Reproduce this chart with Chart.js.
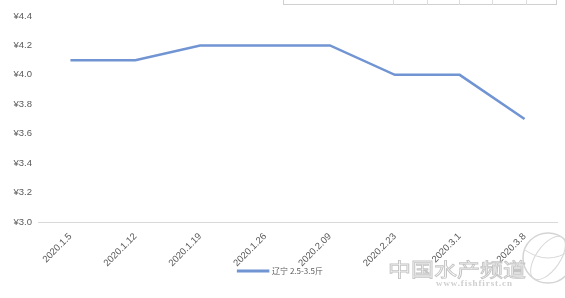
<!DOCTYPE html>
<html>
<head>
<meta charset="utf-8">
<script src="https://cdn.jsdelivr.net/npm/chart.js@4/dist/chart.umd.min.js"></script>
<style>
html,body{margin:0;padding:0;background:#fff;}
#wrap{position:relative;width:565px;height:298px;overflow:hidden;}
canvas{position:absolute;left:0;top:0;}
#tbl{position:absolute;left:283px;top:-2px;width:274px;height:7px;border:1px solid #d0d0d0;box-sizing:border-box;}
.vl{position:absolute;top:0;width:1px;height:6px;background:#dcdcdc;}
#wm{position:absolute;left:388px;top:258px;font-family:"Noto Sans CJK SC";font-size:23px;color:rgba(255,255,255,0);-webkit-text-stroke:1px #c4c4c4;line-height:26px;transform:scaleY(0.82);transform-origin:0 0;}
#wm2{position:absolute;left:436px;top:278px;font-family:"Liberation Serif";font-weight:bold;font-size:9px;letter-spacing:0.9px;color:#cfcfcf;}
</style>
</head>
<body>
<div id="wrap">
<canvas id="c" width="565" height="298"></canvas>
<div id="tbl">
<div class="vl" style="left:109px"></div>
<div class="vl" style="left:143px"></div>
<div class="vl" style="left:175px"></div>
<div class="vl" style="left:208px"></div>
<div class="vl" style="left:242px"></div>
</div>
<svg style="position:absolute;left:515px;top:228px" width="60" height="70">
<circle cx="33" cy="30" r="25" fill="none" stroke="#d4d4d4" stroke-width="1.5"/>
<ellipse cx="33" cy="30" rx="12" ry="25" fill="none" stroke="#d8d8d8" stroke-width="1" transform="rotate(35 33 30)"/>
<path d="M10 22 Q33 38 56 22" fill="none" stroke="#d8d8d8" stroke-width="1"/>
</svg>
<div id="wm">中国水产频道</div>
<div id="wm2">www.fishfirst.cn</div>
</div>
<script>
const categories = ["2020.1.5","2020.1.12","2020.1.19","2020.1.26","2020.2.09","2020.2.23","2020.3.1","2020.3.8"];
const seriesName = "辽宁 2.5-3.5斤";
const prices = [4.1, 4.1, 4.2, 4.2, 4.2, 4.0, 4.0, 3.7];
const yTicks = [3.0, 3.2, 3.4, 3.6, 3.8, 4.0, 4.2, 4.4];

new Chart(document.getElementById('c'), {
  type: 'line',
  data: {
    labels: categories,
    datasets: [{
      label: seriesName,
      data: prices,
      borderColor: '#7194d3',
      backgroundColor: '#7194d3',
      borderWidth: 2.5,
      pointRadius: 0,
      tension: 0,
      fill: false
    }]
  },
  options: {
    responsive: false,
    animation: false,
    layout: { padding: { top: 16, right: 8, left: 4, bottom: 13 } },
    plugins: {
      tooltip: { enabled: false },
      legend: {
        position: 'bottom',
        labels: {
          boxWidth: 30,
          boxHeight: 0.5,
          color: '#595959',
          font: { family: '"Noto Sans CJK SC"', size: 8 },
          padding: 4
        }
      }
    },
    scales: {
      x: {
        offset: true,
        afterFit: (s) => { s.height = 41; s._computeLabelArea = () => undefined; },
        grid: { display: false, drawTicks: false },
        border: { display: true, color: '#d9d9d9', width: 1 },
        ticks: {
          color: '#595959',
          font: { family: 'Liberation Sans', size: 9.5 },
          maxRotation: 45, minRotation: 45,
          padding: 9,
          autoSkip: false
        }
      },
      y: {
        min: 3.0, max: 4.4,
        afterBuildTicks: (s) => { s.ticks = yTicks.map(v => ({ value: v })); },
        afterFit: (s) => { s.width = 34; },
        grid: { display: false, drawTicks: false },
        border: { display: false },
        ticks: {
          color: '#595959',
          font: { family: 'Liberation Sans', size: 9.5 },
          padding: 6,
          callback: (v) => '¥' + Number(v).toFixed(1)
        }
      }
    }
  }
});
</script>
</body>
</html>
